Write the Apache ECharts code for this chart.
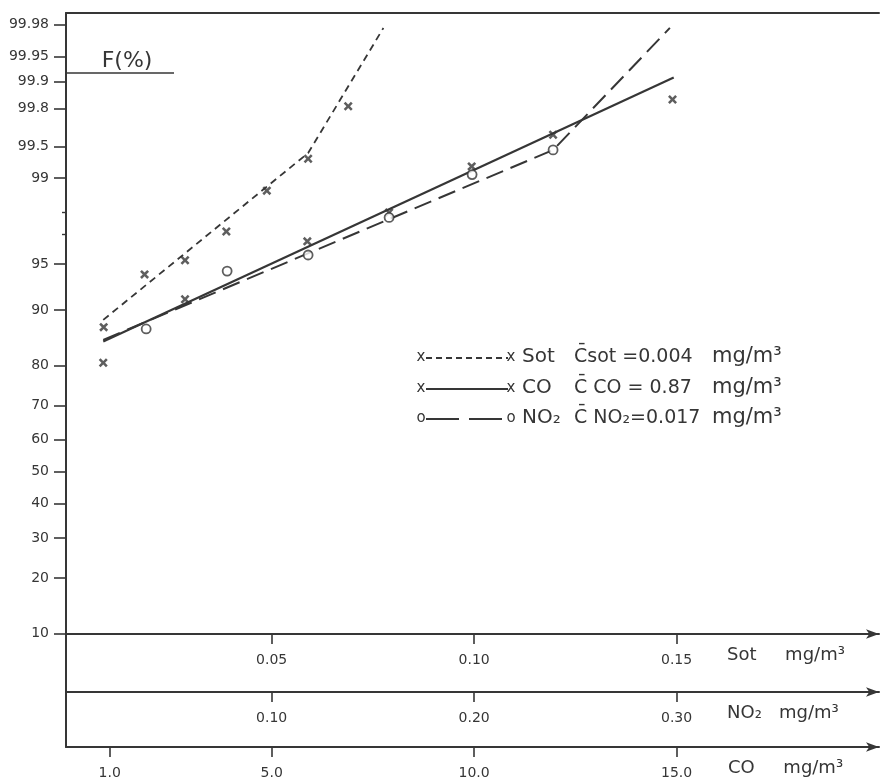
<!DOCTYPE html>
<html>
<head>
<meta charset="utf-8">
<script src="https://cdn.jsdelivr.net/npm/echarts@6/dist/echarts.min.js"></script>
<style>
  html, body { margin: 0; padding: 0; background: #ffffff; }
  #chart { width: 889px; height: 780px; }
</style>
</head>
<body>
<div id="chart"></div>
<script>
// Cumulative frequency F(%) of pollutant concentrations, normal probability paper.

// ---- probability axis (F %) ----
const fTicks = [10, 20, 30, 40, 50, 60, 70, 80, 90, 95, 99, 99.5, 99.8, 99.9, 99.95, 99.98];
const fTickLabels = ['10', '20', '30', '40', '50', '60', '70', '80', '90', '95', '99', '99.5', '99.8', '99.9', '99.95', '99.98'];
const fMinorTicks = [97, 98];

// ---- concentration axes ----
const sotTicks = [0.05, 0.10, 0.15];
const sotTickLabels = ['0.05', '0.10', '0.15'];
const no2Ticks = [0.10, 0.20, 0.30];
const no2TickLabels = ['0.10', '0.20', '0.30'];
const coTicks = [1.0, 5.0, 10.0, 15.0];
const coTickLabels = ['1.0', '5.0', '10.0', '15.0'];

// ---- observed points ----
const sotX = [0.0085, 0.0186, 0.0286, 0.0388, 0.0488, 0.0590, 0.0689];
const sotF = [87.4, 94.1, 95.3, 97.15, 98.7, 99.34, 99.81];
const coX = [0.84, 2.86, 5.88, 7.90, 9.94, 11.95, 14.90];
const coF = [80.6, 91.4, 96.6, 98.0, 99.22, 99.62, 99.84];
const no2X = [0.038, 0.078, 0.118, 0.158, 0.199, 0.239];
const no2F = [87.1, 94.4, 95.7, 97.8, 99.07, 99.46];

// ---- fitted distribution lines ----
const sotFitX = [0.0084, 0.0590, 0.0776];
const sotFitF = [88.55, 99.42, 99.978];
const coFitX = [0.84, 14.93];
const coFitF = [84.9, 99.91];
const no2FitX = [0.0168, 0.2391, 0.2967];
const no2FitF = [85.2, 99.46, 99.978];

// ---- legend entries ----
const legendNames = ['Sot', 'CO', 'NO\u2082'];
const legendMeans = ['C\u0304sot =0.004', 'C\u0304 CO = 0.87', 'C\u0304 NO\u2082=0.017'];
const legendUnit = 'mg/m\u00b3';
const legendMarks = ['x', 'x', 'o'];

// inverse standard normal CDF (Acklam), maps a percentage onto the probit scale
function probit(pct) {
  const p = pct / 100;
  const a = [-3.969683028665376e+01, 2.209460984245205e+02, -2.759285104469687e+02, 1.383577518672690e+02, -3.066479806614716e+01, 2.506628277459239e+00];
  const b = [-5.447609879822406e+01, 1.615858368580409e+02, -1.556989798598866e+02, 6.680131188771972e+01, -1.328068155288572e+01];
  const c = [-7.784894002430293e-03, -3.223964580411365e-01, -2.400758277161838e+00, -2.549732989466270e+00, 4.374664141464968e+00, 2.938163982698783e+00];
  const d = [7.784695709041462e-03, 3.224671290700398e-01, 2.445134137142996e+00, 3.754408661907416e+00];
  const pl = 0.02425, ph = 1 - pl;
  let q, r;
  if (p < pl) {
    q = Math.sqrt(-2 * Math.log(p));
    return (((((c[0]*q+c[1])*q+c[2])*q+c[3])*q+c[4])*q+c[5]) / ((((d[0]*q+d[1])*q+d[2])*q+d[3])*q+1);
  }
  if (p <= ph) {
    q = p - 0.5; r = q * q;
    return (((((a[0]*r+a[1])*r+a[2])*r+a[3])*r+a[4])*r+a[5])*q / (((((b[0]*r+b[1])*r+b[2])*r+b[3])*r+b[4])*r+1);
  }
  q = Math.sqrt(-2 * Math.log(1 - p));
  return -(((((c[0]*q+c[1])*q+c[2])*q+c[3])*q+c[4])*q+c[5]) / ((((d[0]*q+d[1])*q+d[2])*q+d[3])*q+1);
}

const ink = '#363636';
const font = 'DejaVu Sans';
const fTickZ = fTicks.map(probit);

function labelFor(values, labels) {
  return function (v) {
    for (let i = 0; i < values.length; i++) {
      if (Math.abs(values[i] - v) < 1e-6) return labels[i];
    }
    return '';
  };
}
function pairs(xs, fs) { return xs.map((x, i) => [x, probit(fs[i])]); }

// one of the three stacked concentration scales under the plot
const concAxis = (min, max, ticks, labels, offset, name, nameGap) => ({
  type: 'value', gridIndex: 0, position: 'bottom', offset: offset,
  min: min, max: max,
  splitLine: { show: false },
  axisLine: { show: true, onZero: false, symbol: ['none', 'arrow'], symbolSize: [7, 13],
              lineStyle: { color: ink, width: 2 } },
  axisTick: { show: true, customValues: ticks, length: 10, lineStyle: { color: ink, width: 1.6 } },
  axisLabel: { customValues: ticks, formatter: labelFor(ticks, labels), margin: 19,
               fontFamily: font, fontSize: 14, color: ink },
  name: name, nameLocation: 'end', nameGap: nameGap,
  nameTextStyle: { fontFamily: font, fontSize: 18, color: ink, align: 'left',
                   verticalAlign: 'top', padding: [12, 0, 0, 0] }
});

const legendRowsY = [357, 388, 418];
const legendGraphics = [];
legendRowsY.forEach((y, i) => {
  const dash = i === 0 ? [6, 4] : (i === 1 ? null : [33, 10]);
  legendGraphics.push({
    type: 'line', shape: { x1: 426, y1: y + 1, x2: 508, y2: y + 1 },
    style: { stroke: ink, lineWidth: i === 1 ? 2 : 1.8, lineDash: dash }
  });
  [421, 511].forEach(x => legendGraphics.push({
    type: 'text', x: x, y: y,
    style: { text: legendMarks[i], font: '15px ' + font, fill: ink, align: 'center', verticalAlign: 'middle' }
  }));
  legendGraphics.push({ type: 'text', x: 522, y: y,
    style: { text: legendNames[i], font: '20px ' + font, fill: ink, verticalAlign: 'middle' } });
  legendGraphics.push({ type: 'text', x: 574, y: y,
    style: { text: legendMeans[i], font: '19px ' + font, fill: ink, verticalAlign: 'middle' } });
  legendGraphics.push({ type: 'text', x: 712, y: y,
    style: { text: legendUnit, font: '21px ' + font, fill: ink, verticalAlign: 'middle' } });
});

const crossPath = 'path://M0,2L2,0L5,3L8,0L10,2L7,5L10,8L8,10L5,7L2,10L0,8L3,5Z';

const option = {
  backgroundColor: '#ffffff',
  animation: false,
  grid: { left: 66, right: 10, top: 13, bottom: 33, containLabel: false },
  xAxis: [
    concAxis(-0.0008, 0.2, sotTicks, sotTickLabels, -113, 'Sot     mg/m\u00b3', -152),
    concAxis(-0.0016, 0.4, no2Ticks, no2TickLabels, -55, 'NO\u2082   mg/m\u00b3', -152),
    concAxis(-0.08, 20, coTicks, coTickLabels, 0, 'CO     mg/m\u00b3', -151),
    { type: 'value', gridIndex: 0, position: 'top', min: 0, max: 1,
      axisLine: { show: true, onZero: false, lineStyle: { color: ink, width: 2 } },
      axisTick: { show: false }, axisLabel: { show: false }, splitLine: { show: false } }
  ],
  yAxis: [
    { type: 'value', gridIndex: 0, position: 'left', min: -2.179, max: 3.633,
      splitLine: { show: false },
      axisLine: { show: true, onZero: false, lineStyle: { color: ink, width: 2 } },
      axisTick: { show: true, customValues: fTickZ, length: 12, lineStyle: { color: ink, width: 1.6 } },
      axisLabel: { customValues: fTickZ, formatter: labelFor(fTickZ, fTickLabels), margin: 17,
                   fontFamily: font, fontSize: 14, color: ink } },
    { type: 'value', gridIndex: 0, position: 'left', min: -2.179, max: 3.633,
      splitLine: { show: false }, axisLine: { show: false, onZero: false },
      axisTick: { show: true, customValues: fMinorTicks.map(probit), length: 4,
                  lineStyle: { color: ink, width: 1.4 } },
      axisLabel: { show: false } }
  ],
  series: [
    { name: 'Sot fit', type: 'line', xAxisIndex: 0, yAxisIndex: 0, data: pairs(sotFitX, sotFitF),
      symbol: 'none', lineStyle: { color: ink, width: 1.8, type: [7, 5] }, z: 2 },
    { name: 'NO2 fit', type: 'line', xAxisIndex: 1, yAxisIndex: 0, data: pairs(no2FitX, no2FitF),
      symbol: 'none', lineStyle: { color: ink, width: 2, type: [18, 8] }, z: 2 },
    { name: 'CO fit', type: 'line', xAxisIndex: 2, yAxisIndex: 0, data: pairs(coFitX, coFitF),
      symbol: 'none', lineStyle: { color: ink, width: 2.2 }, z: 2 },
    { name: 'Sot', type: 'scatter', xAxisIndex: 0, yAxisIndex: 0, data: pairs(sotX, sotF),
      symbol: crossPath, symbolSize: 9, itemStyle: { color: ink }, z: 3 },
    { name: 'CO', type: 'scatter', xAxisIndex: 2, yAxisIndex: 0, data: pairs(coX, coF),
      symbol: crossPath, symbolSize: 9, itemStyle: { color: ink }, z: 3 },
    { name: 'NO2', type: 'scatter', xAxisIndex: 1, yAxisIndex: 0, data: pairs(no2X, no2F),
      symbol: 'circle', symbolSize: 9,
      itemStyle: { color: '#ffffff', borderColor: ink, borderWidth: 1.8 }, z: 3 }
  ],
  graphic: [
    { type: 'text', x: 127, y: 61,
      style: { text: 'F(%)', font: '22px ' + font, fill: ink, align: 'center', verticalAlign: 'middle' } },
    { type: 'line', shape: { x1: 66, y1: 73, x2: 174, y2: 73 }, style: { stroke: ink, lineWidth: 1.6 } }
  ].concat(legendGraphics)
};

const chart = echarts.init(document.getElementById('chart'), null, { renderer: 'canvas' });
chart.setOption(option);
</script>
</body>
</html>
